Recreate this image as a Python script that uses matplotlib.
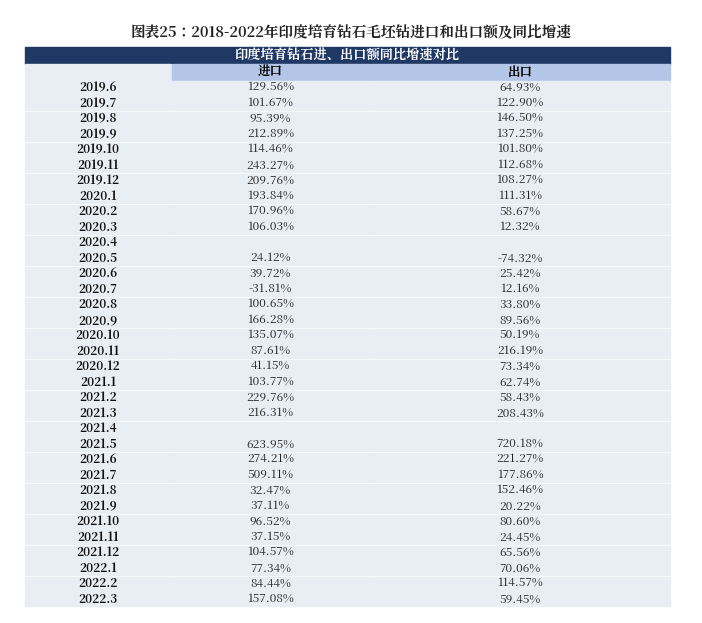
import matplotlib.pyplot as plt
from matplotlib import font_manager
from matplotlib.patches import Rectangle

# find a CJK font file
cjk = [f for f in font_manager.findSystemFonts() if "CJK" in f or "cjk" in f.lower()]
cjk.sort(key=lambda f: ("SC" not in f, "Bold" in f))
if cjk:
    font_manager.fontManager.addfont(cjk[0])
    name = font_manager.FontProperties(fname=cjk[0]).get_name()
    plt.rcParams["font.family"] = [name, "DejaVu Sans"]
else:
    plt.rcParams["font.family"] = ["Noto Sans CJK SC", "DejaVu Sans"]

# Table data
months = ["2019.6", "2019.7", "2019.8", "2019.9", "2019.10", "2019.11", "2019.12",
          "2020.1", "2020.2", "2020.3", "2020.4", "2020.5", "2020.6", "2020.7",
          "2020.8", "2020.9", "2020.10", "2020.11", "2020.12", "2021.1", "2021.2",
          "2021.3", "2021.4", "2021.5", "2021.6", "2021.7", "2021.8", "2021.9",
          "2021.10", "2021.11", "2021.12", "2022.1", "2022.2", "2022.3"]
imports = ["129.56%", "101.67%", "95.39%", "212.89%", "114.46%", "243.27%", "209.76%",
           "193.84%", "170.96%", "106.03%", "", "24.12%", "39.72%", "-31.81%",
           "100.65%", "166.28%", "135.07%", "87.61%", "41.15%", "103.77%", "229.76%",
           "216.31%", "", "623.95%", "274.21%", "509.11%", "32.47%", "37.11%",
           "96.52%", "37.15%", "104.57%", "77.34%", "84.44%", "157.08%"]
exports = ["64.93%", "122.90%", "146.50%", "137.25%", "101.80%", "112.68%", "108.27%",
           "111.31%", "58.67%", "12.32%", "", "-74.32%", "25.42%", "12.16%",
           "33.80%", "89.56%", "50.19%", "216.19%", "73.34%", "62.74%", "58.43%",
           "208.43%", "", "720.18%", "221.27%", "177.86%", "152.46%", "20.22%",
           "80.60%", "24.45%", "65.56%", "70.06%", "114.57%", "59.45%"]

W, H = 702, 623
fig = plt.figure(figsize=(W / 100, H / 100), dpi=100)
ax = fig.add_axes([0, 0, 1, 1])
ax.set_xlim(0, W)
ax.set_ylim(H, 0)
ax.axis("off")

x0, x1, x2, x3 = 25, 171, 370, 670
row_h = (607 - 80) / len(months)

ax.text(W / 2, 33, "图表25：2018-2022年印度培育钻石毛坯钻进口和出口额及同比增速",
        ha="center", va="center", fontsize=10.5, fontweight="bold", color="#222222")

# header
ax.add_patch(Rectangle((x0, 47), x3 - x0, 17, color="#1F3864"))
ax.text((x0 + x3) / 2, 55.5, "印度培育钻石进、出口额同比增速对比", ha="center", va="center",
        fontsize=9.5, color="white", fontweight="bold")
ax.add_patch(Rectangle((x0, 64), x1 - x0, 15.5, color="#E9EDF4"))
ax.add_patch(Rectangle((x1 + 1, 64), x2 - x1 - 1, 15.5, color="#B4C6E7"))
ax.add_patch(Rectangle((x2 + 1, 64), x3 - x2 - 1, 15.5, color="#B4C6E7"))
ax.text((x1 + x2) / 2, 72, "进口", ha="center", va="center", fontsize=9, fontweight="bold")
ax.text((x2 + x3) / 2, 72, "出口", ha="center", va="center", fontsize=9, fontweight="bold")

for i, (m, a, b) in enumerate(zip(months, imports, exports)):
    y = 80 + i * row_h
    for xa, xb in [(x0, x1), (x1 + 1, x2), (x2 + 1, x3)]:
        ax.add_patch(Rectangle((xa, y + 0.6), xb - xa, row_h - 1.2, color="#E9EDF4"))
    yc = y + row_h / 2
    ax.text((x0 + x1) / 2, yc, m, ha="center", va="center", fontsize=8.5,
            fontweight="bold", color="#111111")
    ax.text((x1 + x2) / 2, yc, a, ha="center", va="center", fontsize=8.5, color="#222222")
    ax.text((x2 + x3) / 2, yc, b, ha="center", va="center", fontsize=8.5, color="#222222")

fig.savefig("out.png", dpi=100)
